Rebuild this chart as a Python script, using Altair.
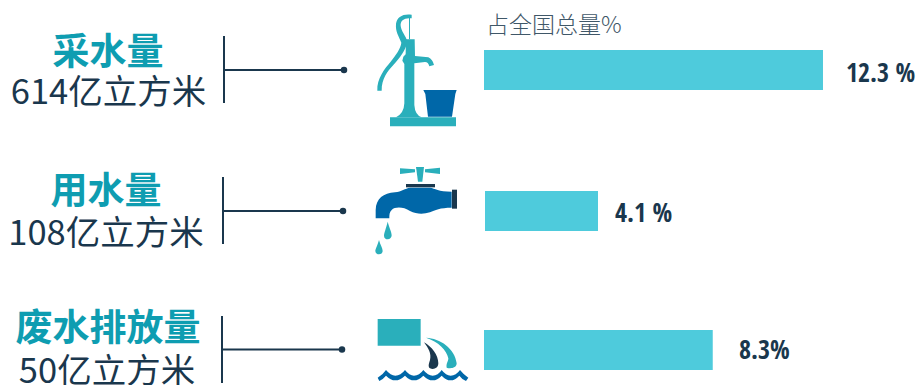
import altair as alt
import pandas as pd

# Data
names = ["采水量", "用水量", "废水排放量"]
volumes = ["614亿立方米", "108亿立方米", "50亿立方米"]
shares = [12.3, 4.1, 8.3]
share_labels = ["12.3 %", "4.1 %", "8.3%"]
share_header = "占全国总量%"

# Palette and fonts
TEAL_TEXT = "#0E9DB1"
INK = "#1A374D"
BAR = "#4ECBDC"
TEAL = "#2AAFBB"
BLUE = "#0067A8"
CJK = "Noto Sans CJK SC"
NARROW = "Open Sans Condensed"

W, H = 916, 385
PX_PER_UNIT = 27.56
BAR_ZERO = 484
x_scale = alt.Scale(domain=[-BAR_ZERO / PX_PER_UNIT, (W - BAR_ZERO) / PX_PER_UNIT], range=[0, W], nice=False, zero=False)

# Per-row layout: bar centre, bar nudge, leader line geometry, text placement
rows = [
    dict(bar_y=70, nudge=0, lx=224, lx2=344, ly=70, v0=36, v1=103, tx=108, ty=53.5, sx=108.5, sy=94, vx=846, vy=74),
    dict(bar_y=211, nudge=1, lx=223, lx2=343, ly=211, v0=177, v1=244, tx=106, ty=192.5, sx=106, sy=235, vx=615, vy=214),
    dict(bar_y=350, nudge=0, lx=222, lx2=342, ly=349.5, v0=316, v1=383, tx=108, ty=330, sx=107, sy=373, vx=739, vy=351),
]


def one(**kw):
    return alt.Chart(pd.DataFrame([kw]))


def text_layer(value, x, y, **style):
    return one(t=value).mark_text(align=style.pop("align", "center"), baseline="middle", **style).encode(
        x=alt.value(x), y=alt.value(y), text="t:N"
    )


# Icons are path glyphs written on a 3x grid, hence the symbol size of 4/9
def glyph(path, color, ox, oy):
    return one(g=1).mark_point(
        shape=path, size=4 / 9, filled=True, color=color, opacity=1, strokeWidth=0
    ).encode(x=alt.value(ox), y=alt.value(oy))


layers = []

for i, r in enumerate(rows):
    layers.append(
        one(share=shares[i], start=0).mark_rect(color=BAR, xOffset=r["nudge"], x2Offset=r["nudge"]).encode(
            x=alt.X("start:Q", scale=x_scale, axis=None),
            x2="share:Q",
            y=alt.value(r["bar_y"] - 20),
            y2=alt.value(r["bar_y"] + 20),
        )
    )
    layers.append(text_layer(share_labels[i], r["vx"], r["vy"], align="left", font=NARROW, fontWeight="bold", fontSize=26, color=INK))
    layers.append(text_layer(names[i], r["tx"], r["ty"], font=CJK, fontWeight="bold", fontSize=37, color=TEAL_TEXT))
    layers.append(text_layer(volumes[i], r["sx"], r["sy"], font=CJK, fontSize=34.5, color=INK))
    layers.append(
        one(a=1).mark_rule(color=INK, strokeWidth=2).encode(x=alt.value(r["lx"]), y=alt.value(r["v0"]), y2=alt.value(r["v1"]))
    )
    layers.append(
        one(a=1).mark_rule(color=INK, strokeWidth=2).encode(x=alt.value(r["lx"]), x2=alt.value(r["lx2"]), y=alt.value(r["ly"]))
    )
    layers.append(
        one(a=1).mark_circle(color=INK, size=42, opacity=1).encode(x=alt.value(r["lx2"]), y=alt.value(r["ly"]))
    )

layers.append(text_layer(share_header, 486, 26, align="left", font=CJK, fontSize=23, fontWeight=300, color="#3F5768"))

# Hand pump
pump = [
    ("M90,352 L288,352 L288,379 L90,379 Z", TEAL),
    ("M133,192 L127,182 L130,170 L137,163 L138,118 L164,118 L165,168 L205,172 Q218,178 222,195 L208,199 Q205,186 195,186 L163,190 L163,315 Q165,345 185,352 L108,352 Q132,340 133,310 Z", TEAL),
    ("M52,272 C50,235 75,205 92,185 C108,165 122,145 124,128 C116,108 106,95 108,72 C110,50 130,40 155,44 L155,55 C135,52 120,60 122,78 C124,95 138,108 142,125 C138,150 118,175 100,195 C82,215 65,235 65,272 Z", TEAL),
    ("M147,52 L150,52 L150,118 L147,118 Z", TEAL),
    ("M190,270 L290,270 L286,282 L276,350 L204,350 L196,282 Z", BLUE),
]
for path, color in pump:
    layers.append(glyph(path, color, 360, 0))

# Dripping tap
tap = [
    ("M120,40 L165,43 L165,52 L120,57 Z", TEAL),
    ("M195,43 L240,38 L240,57 L195,52 Z", TEAL),
    ("M168,36 L192,36 L187,80 L174,80 Z", TEAL),
    ("M138,87 L225,87 L225,97 L138,97 Z", INK),
    ("M47,190 L47,165 C48,130 70,115 105,112 C125,110 135,100 150,98 L210,98 C225,100 235,110 275,110 L275,158 C240,158 225,165 210,172 C190,178 170,178 150,168 C130,155 105,155 95,165 C88,172 88,180 88,190 Z", BLUE),
    ("M276,104 L291,104 L291,161 L276,161 Z", INK),
    ("M83,200 C78,220 72,235 72,242 C72,250 78,253 83,253 C90,253 95,248 95,241 C95,232 88,218 83,200 Z", TEAL),
    ("M57,255 C53,270 46,282 46,288 C46,295 52,298 57,298 C63,298 68,294 68,288 C68,280 61,270 57,255 Z", TEAL),
]
for path, color in tap:
    layers.append(glyph(path, color, 360, 155))

# Outfall pipe over water
outfall = [
    ("M53,42 L182,42 L182,122 L53,122 Z", TEAL),
    ("M192,112 C215,125 235,150 235,175 C235,190 220,195 210,190 C203,185 207,175 210,165 C215,145 205,130 192,112 Z", INK),
    ("M198,98 C240,100 285,130 290,175 C290,190 270,192 260,188 C258,175 265,170 265,160 C260,135 235,110 198,98 Z", TEAL),
    ("M53,218 Q68,210 78,195 Q92,212 106,212 Q122,212 135,195 Q148,212 162,212 Q178,212 190,195 Q204,212 218,212 Q234,212 245,195 Q258,212 272,212 Q288,212 300,195 Q312,210 325,218 L318,228 Q305,222 298,212 Q285,226 272,226 Q258,226 245,212 Q232,226 218,226 Q204,226 190,212 Q176,226 162,226 Q148,226 135,212 Q120,226 106,226 Q92,226 78,212 Q70,222 58,228 Z", BLUE),
]
for path, color in outfall:
    layers.append(glyph(path, color, 360, 305))

chart = (
    alt.layer(*layers)
    .properties(width=W, height=H, padding=0, autosize=alt.AutoSizeParams(type="none"))
    .configure_view(stroke=None)
)

chart.save("out.html", embed_options={"renderer": "svg", "actions": False})
